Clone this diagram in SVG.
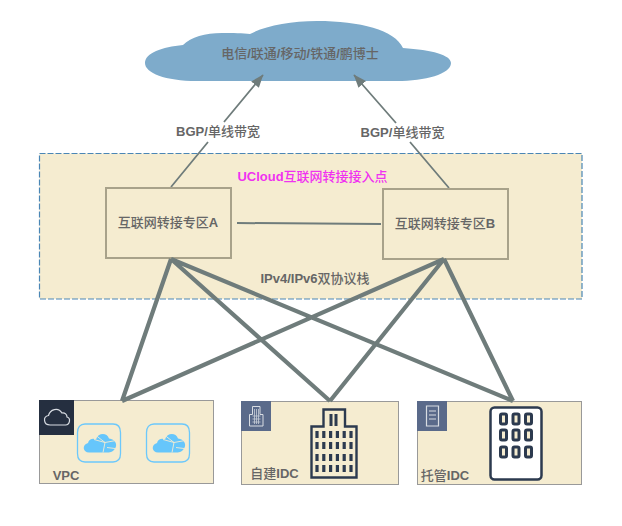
<svg xmlns="http://www.w3.org/2000/svg" width="622" height="526" viewBox="0 0 622 526">
<style>
text{font-family:"Liberation Sans","Noto Sans CJK SC",sans-serif;font-size:13px;font-weight:500;fill:#666;text-anchor:middle}
tspan{font-weight:bold}
.box{fill:#f5ecd0;stroke:#a8a28a;stroke-width:2}
.card{fill:#f5ecd0;stroke:#999;stroke-width:1}
.thin{fill:none;stroke:#6f7c7b;stroke-width:1.8}
.mesh{fill:none;stroke:#6f7c7b;stroke-width:4.2}
.ic{fill:none;stroke:#d8dce2;stroke-width:1}
.win{fill:#f5ecd0;stroke:#2c3a4f;stroke-width:3}
</style>
<defs>
<marker id="arr" markerWidth="14" markerHeight="12" refX="12.5" refY="5" orient="auto" markerUnits="userSpaceOnUse"><path d="M0 0L13 5L0 10Z" fill="#6f7c7b"/></marker>
<g id="vcloud">
<path d="M8 0.500H36C41 0.500 43.500 4 43.500 9V30C43.500 35 41 38.500 36 38.500H8C3 38.500 0.500 35 0.500 30V9C0.500 4 3 0.500 8 0.500Z" fill="none" stroke="#6cc8fb" stroke-width="1.300"/>
<path d="M12 29C6 29 4.500 21.500 11 19.500C12 15.500 16 14.500 19 16C21 9 30 9 32 15C38 15.500 41 21 38 25C36 29 32 29 30 29Z" fill="#66c6fb"/>
<path d="M19 12L28 19L39 17M28 19L26 29M17 16L28 19M30 24L38 25" fill="none" stroke="#f5ecd0" stroke-width="0.900"/>
</g>
</defs>
<g id="internet-cloud">
<path d="M197 81C165 81 145 73 145 63C145 53 162 47 183 45C191 37 205 33 222 33C233 33 243 33 250 34C265 26 290 21 317 21C360 21 395 30 403 48C432 50 451 55 451 63C451 74 425 81 397 81Z" fill="#7eabcb"/>
<text x="300" y="58">电信<tspan>/</tspan>联通<tspan>/</tspan>移动<tspan>/</tspan>铁通<tspan>/</tspan>鹏博士</text>
</g>
<g id="ucloud-zone">
<rect x="39.500" y="153.500" width="542.500" height="145.500" fill="#f5ecd0" stroke="#4a86b5" stroke-width="1.200" stroke-dasharray="6 2"/>
<text x="312.500" y="181" style="fill:#f032f0"><tspan>UCloud</tspan>互联网转接接入点</text>
<text x="315" y="283"><tspan>IPv4/IPv6</tspan>双协议栈</text>
</g>
<g id="connectors">
<path class="thin" d="M171 187L208 142M224 122L263 75" marker-end="url(#arr)"/>
<path class="thin" d="M449 188L410 142M396 123L354 75" marker-end="url(#arr)"/>
<path class="thin" d="M237 223L381 224" style="stroke-width:2"/>
</g>
<g id="zone-a"><rect class="box" x="106" y="188" width="125" height="70"/><text x="168" y="227">互联网转接专区<tspan>A</tspan></text></g>
<g id="zone-b"><rect class="box" x="383" y="189" width="125" height="70"/><text x="445" y="228">互联网转接专区<tspan>B</tspan></text></g>
<g id="labels">
<text x="218" y="136"><tspan>BGP/</tspan>单线带宽</text>
<text x="402.500" y="137"><tspan>BGP/</tspan>单线带宽</text>
</g>
<g id="vpc">
<rect class="card" x="39.500" y="400.500" width="174" height="83"/>
<rect x="39" y="400" width="35" height="35" fill="#252f40"/>
<path class="ic" d="M50 425C43.500 425 42.500 416.500 48.500 415.500C50 409.500 58 406.500 62 413C65 412.500 67 414.500 67 417C71 418 70 425 65.500 425Z" style="stroke-width:1.200"/>
<use href="#vcloud" x="77" y="423.500"/>
<use href="#vcloud" x="146" y="423.500"/>
<text x="66" y="480"><tspan>VPC</tspan></text>
</g>
<g id="self-idc">
<rect class="card" x="241.500" y="401.500" width="157" height="83"/>
<rect x="241" y="401" width="30" height="30" fill="#5a6a8a"/>
<path class="ic" d="M249.500 426V414.500H252.500V406.500H260V414.500H263V426Z"/>
<path d="M252.500 416H260.500M252.500 419H260.500M252.500 422H260.500M254.500 409V424M256.500 409V424M258.500 409V424" stroke="#c8ced8" stroke-width="0.800" fill="none"/>
<path d="M311.500 477.500V426.500H323.500V409.500H345V426.500H356.500V477.500Z" fill="#f5ecd0" stroke="#2c3a4f" stroke-width="2.400"/>
<path d="M331 414V426M336 414V426" stroke="#2c3a4f" stroke-width="3" fill="none"/>
<path d="M317 431V438M323.800 431V438M330.600 431V438M337.400 431V438M344.200 431V438M351 431V438M317 442V449M323.800 442V449M330.600 442V449M337.400 442V449M344.200 442V449M351 442V449M317 454V461M323.800 454V461M330.600 454V461M337.400 454V461M344.200 454V461M351 454V461M317 465V472M323.800 465V472M330.600 465V472M337.400 465V472M344.200 465V472M351 465V472" stroke="#2c3a4f" stroke-width="3.200" fill="none"/>
<text x="274.500" y="478">自建<tspan>IDC</tspan></text>
</g>
<g id="hosted-idc">
<rect class="card" x="417.500" y="401.500" width="164" height="83"/>
<rect x="417" y="401" width="30" height="30" fill="#5a6a8a"/>
<path class="ic" d="M426.500 406H438.500V426H426.500ZM429 411H436M429 415H436M429 419H436" style="stroke-width:1.200"/>
<rect x="490.500" y="407.500" width="51" height="72" rx="4" fill="#fff" stroke="#2c3a4f" stroke-width="2.500"/>
<g>
<rect class="win" x="500.500" y="414" width="6" height="10" rx="1.500"/><rect class="win" x="513" y="414" width="6" height="10" rx="1.500"/><rect class="win" x="525.500" y="414" width="6" height="10" rx="1.500"/>
<rect class="win" x="500.500" y="430" width="6" height="10" rx="1.500"/><rect class="win" x="513" y="430" width="6" height="10" rx="1.500"/><rect class="win" x="525.500" y="430" width="6" height="10" rx="1.500"/>
<rect class="win" x="500.500" y="447" width="6" height="10" rx="1.500"/><rect class="win" x="513" y="447" width="6" height="10" rx="1.500"/><rect class="win" x="525.500" y="447" width="6" height="10" rx="1.500"/>
</g>
<text x="445" y="480">托管<tspan>IDC</tspan></text>
</g>
<g id="mesh">
<path class="mesh" d="M171 259L122 401M171 259L330 401M444 259L330 401M444 259L513 401M171 259L513 401M444 259L122 401"/>
</g>
</svg>
